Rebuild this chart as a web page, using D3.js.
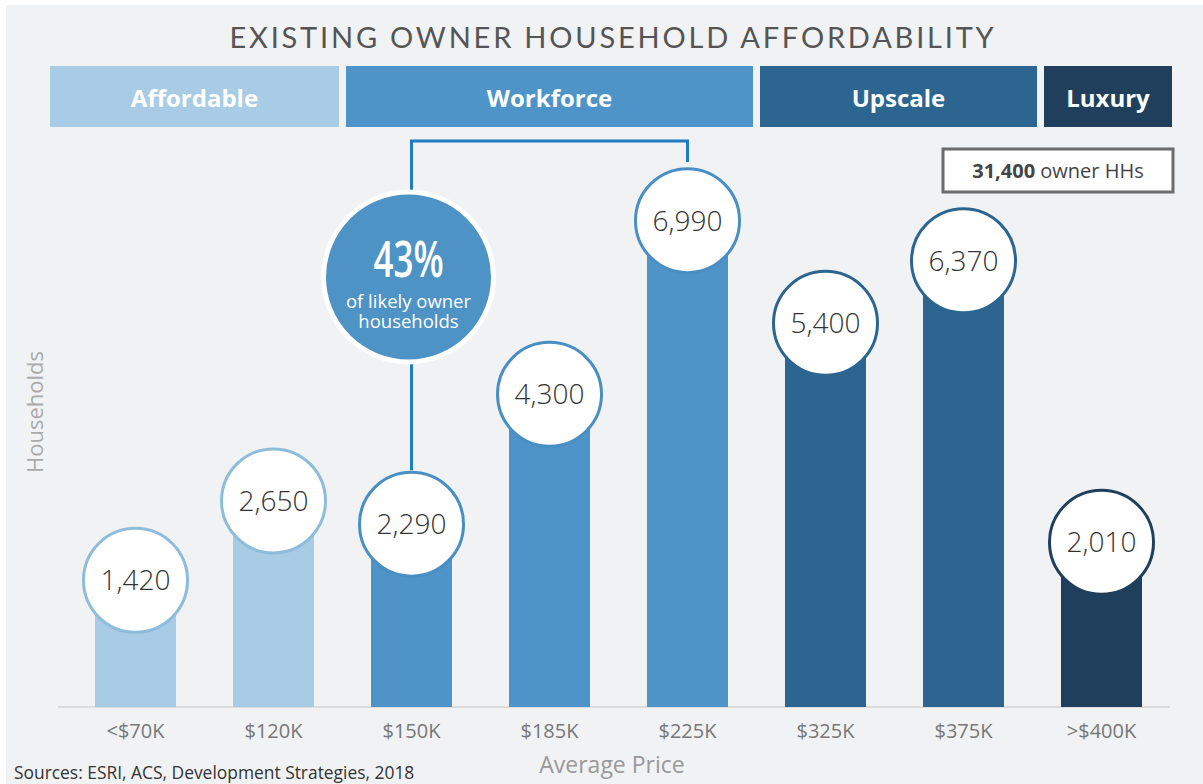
<!DOCTYPE html>
<html>
<head>
<meta charset="utf-8">
<script src="https://cdn.jsdelivr.net/npm/d3@7"></script>
<style>
  html, body { margin: 0; padding: 0; background: #fff; }
  #draw { width: 1203px; height: 784px; }
</style>
</head>
<body>
<div id="draw"></div>
<script>
// chart data
let categories = ['<$70K', '$120K', '$150K', '$185K', '$225K', '$325K', '$375K', '>$400K'];
let households = [1420, 2650, 2290, 4300, 6990, 5400, 6370, 2010];
let tierOf = ['Affordable', 'Affordable', 'Workforce', 'Workforce', 'Workforce', 'Upscale', 'Upscale', 'Luxury'];
let tierNames = ['Affordable', 'Workforce', 'Upscale', 'Luxury'];
let tierColors = ['#a9cce6', '#4e94c8', '#2c6590', '#1f3f5c'];
let tierStrokes = ['#8ebcdb', '#4a8fc3', '#2c6590', '#1f3f5c'];
let bracketShare = '43%';
let bracketFrom = '$150K', bracketTo = '$225K';
let totalHHs = '31,400';

let W = 1203, H = 784;
let baseY = 707;
let circR = 52;
let font = '"Open Sans", sans-serif';

let svg = d3.select('#draw').append('svg').attr('width', W).attr('height', H);

// background panel
svg.append('rect').attr('x', 6).attr('y', 5).attr('width', W - 6).attr('height', H - 5)
  .attr('fill', '#f1f2f4');

let x = d3.scaleBand().domain(categories)
  .range([66.5, 1170.5]).paddingInner(0.413).paddingOuter(0.2065);
let y = d3.scaleLinear().domain([0, 7000]).range([baseY, baseY - 452]);
let cx = function(c) { return x(c) + x.bandwidth() / 2; };
let cy = function(v) { return y(v) - 35; };
let colorOf = function(t) { return tierColors[tierNames.indexOf(t)]; };
let strokeOf = function(t) { return tierStrokes[tierNames.indexOf(t)]; };

// title
svg.append('text').attr('x', 613).attr('y', 48).attr('text-anchor', 'middle')
  .attr('font-family', 'Lato, "Open Sans", sans-serif').attr('font-size', 29)
  .attr('letter-spacing', 2.8).attr('fill', '#555')
  .text('EXISTING OWNER HOUSEHOLD AFFORDABILITY');

// tier header row
let step = x.step();
let tiers = tierNames.map(function(t, i) {
  let idx = categories.filter(function(c, k) { return tierOf[k] === t; });
  let x0 = i === 0 ? 50 : cx(idx[0]) - step / 2 + 3.5;
  let x1 = i === tierNames.length - 1 ? 1172 : cx(idx[idx.length - 1]) + step / 2 - 3.5;
  if (t === 'Upscale') x1 += 8;   // the reference header sits a little right of the bar gap
  if (t === 'Luxury') x0 += 8;
  return {name: t, x0: x0, x1: x1, color: tierColors[i]};
});
let hdr = svg.append('g');
hdr.selectAll('rect').data(tiers).enter().append('rect')
  .attr('x', function(d) { return d.x0; }).attr('y', 66)
  .attr('width', function(d) { return d.x1 - d.x0; }).attr('height', 61)
  .attr('fill', function(d) { return d.color; });
hdr.selectAll('text').data(tiers).enter().append('text')
  .attr('x', function(d) { return (d.x0 + d.x1) / 2; }).attr('y', 107)
  .attr('text-anchor', 'middle').attr('fill', '#fff')
  .attr('font-family', font).attr('font-weight', 700).attr('font-size', 24)
  .text(function(d) { return d.name; });

// bracket over the workforce bars
let bx0 = cx(bracketFrom), bx1 = cx(bracketTo);
let bracketBottomL = cy(households[categories.indexOf(bracketFrom)]) - circR - 2;
svg.append('path')
  .attr('d', 'M' + bx0 + ',' + bracketBottomL + ' V141 H' + bx1 + ' V162')
  .attr('fill', 'none').attr('stroke', '#1f7bc2').attr('stroke-width', 3);

// axis line
svg.append('line').attr('x1', 58).attr('x2', 1170).attr('y1', baseY).attr('y2', baseY)
  .attr('stroke', '#d4d4d4').attr('stroke-width', 1.5);

// bars
let rows = categories.map(function(c, i) { return {cat: c, v: households[i], tier: tierOf[i]}; });
svg.append('g').selectAll('rect').data(rows).enter().append('rect')
  .attr('x', function(d) { return x(d.cat); })
  .attr('y', function(d) { return cy(d.v); })
  .attr('width', x.bandwidth())
  .attr('height', function(d) { return baseY - cy(d.v); })
  .attr('fill', function(d) { return colorOf(d.tier); });

// value bubbles
let bub = svg.append('g').selectAll('g').data(rows).enter().append('g')
  .attr('transform', function(d) { return 'translate(' + cx(d.cat) + ',' + cy(d.v) + ')'; });
bub.append('circle').attr('r', circR).attr('fill', '#fff')
  .attr('stroke', function(d) { return strokeOf(d.tier); }).attr('stroke-width', 3);
bub.append('text').attr('text-anchor', 'middle').attr('dy', 10)
  .attr('font-family', font).attr('font-weight', 300).attr('font-size', 28).attr('fill', '#333')
  .text(function(d) { return d3.format(',')(d.v); });

// 43% callout
let cg = svg.append('g').attr('transform', 'translate(' + (bx0 - 3) + ',277)');
cg.append('circle').attr('r', 85).attr('fill', '#4e93c5').attr('stroke', '#fff').attr('stroke-width', 5);
cg.append('text').attr('text-anchor', 'middle').attr('transform', 'translate(0,0) scale(0.7,1)')
  .attr('font-family', font).attr('font-weight', 600).attr('font-size', 50).attr('fill', '#fff')
  .text(bracketShare);
cg.append('text').attr('text-anchor', 'middle').attr('y', 31)
  .attr('font-family', font).attr('font-size', 18.5).attr('fill', '#fff')
  .text('of likely owner');
cg.append('text').attr('text-anchor', 'middle').attr('y', 51)
  .attr('font-family', font).attr('font-size', 18.5).attr('fill', '#fff')
  .text('households');

// total box
svg.append('rect').attr('x', 943).attr('y', 149).attr('width', 230).attr('height', 43)
  .attr('fill', '#fff').attr('stroke', '#6b6b6b').attr('stroke-width', 3);
let tt = svg.append('text').attr('x', 1058).attr('y', 178).attr('text-anchor', 'middle')
  .attr('font-family', font).attr('font-size', 20).attr('fill', '#444');
tt.append('tspan').attr('font-weight', 700).text(totalHHs);
tt.append('tspan').text(' owner HHs');

// x tick labels
let xAxis = d3.axisBottom(x).tickSize(0).tickPadding(0);
let xg = svg.append('g').attr('transform', 'translate(0,' + (baseY + 31) + ')').call(xAxis);
xg.select('.domain').remove();
xg.selectAll('text').attr('dy', 0).attr('font-family', font)
  .attr('font-size', 20).attr('fill', '#777');

// axis titles
svg.append('text').attr('transform', 'translate(43,412) rotate(-90)').attr('text-anchor', 'middle')
  .attr('font-family', font).attr('font-size', 22).attr('fill', '#aaa')
  .text('Households');
svg.append('text').attr('x', 612).attr('y', 773).attr('text-anchor', 'middle')
  .attr('font-family', font).attr('font-size', 23).attr('fill', '#999')
  .text('Average Price');
svg.append('text').attr('x', 14).attr('y', 779)
  .attr('font-family', font).attr('font-size', 17.4).attr('fill', '#333')
  .text('Sources: ESRI, ACS, Development Strategies, 2018');
</script>
</body>
</html>
